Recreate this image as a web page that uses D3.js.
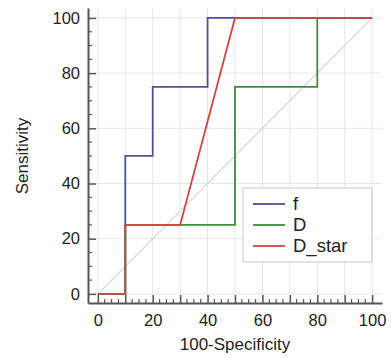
<!DOCTYPE html>
<html>
<head>
<meta charset="utf-8">
<script src="https://cdn.jsdelivr.net/npm/d3@7"></script>
<style>
  body { margin: 0; background: #fff; }
  svg { font-family: "Liberation Sans", Arial, sans-serif; }
  .grid line { stroke: #e6e6e6; stroke-width: 1; }
  .axis path { stroke: #555; stroke-width: 2; }
  .axis line { stroke: #555; stroke-width: 1.5; }
  .axis text { fill: #222; font-size: 16.5px; }
</style>
</head>
<body>
<svg id="chart" width="391" height="358"></svg>
<script>
// ROC points (100-Specificity, Sensitivity)
const seriesNames = ["f", "D", "D_star"];
const seriesColors = ["#4f5096", "#3f8d3f", "#cc4646"];
const fX = [0, 10, 10, 20, 20, 40, 40, 100];
const fY = [0, 0, 50, 50, 75, 75, 100, 100];
const dX = [0, 10, 10, 50, 50, 80, 80, 100];
const dY = [0, 0, 25, 25, 75, 75, 100, 100];
const dStarX = [0, 10, 10, 30, 50, 100];
const dStarY = [0, 0, 25, 25, 100, 100];
const tickLabels = [0, 20, 40, 60, 80, 100];

const svg = d3.select("#chart");

// scales, padded a bit beyond 0..100 like the original
const x = d3.scaleLinear().domain([-3.6, 103.6]).range([88, 382]);
const y = d3.scaleLinear().domain([-3.3, 103.6]).range([303, 8]);

// grid
const grid = svg.append("g").attr("class", "grid");
grid.selectAll(".gv").data(d3.range(0, 101, 10)).join("line")
    .attr("x1", d => x(d)).attr("x2", d => x(d))
    .attr("y1", y.range()[0]).attr("y2", y.range()[1]);
grid.selectAll(".gh").data(d3.range(0, 101, 20)).join("line")
    .attr("y1", d => y(d)).attr("y2", d => y(d))
    .attr("x1", x.range()[0]).attr("x2", x.range()[1]);

// diagonal reference
svg.append("line")
    .attr("x1", x(0)).attr("y1", y(0))
    .attr("x2", x(100)).attr("y2", y(100))
    .attr("stroke", "#d9d2d9").attr("stroke-width", 1.2);

// minor ticks (inward)
const minor = svg.append("g");
minor.selectAll(".mx").data(d3.range(0, 101, 2.5).filter(d => d % 10 !== 0)).join("line")
    .attr("x1", d => x(d)).attr("x2", d => x(d))
    .attr("y1", y.range()[0]).attr("y2", y.range()[0] - 4)
    .attr("stroke", "#555").attr("stroke-width", 1.2);
minor.selectAll(".my").data(d3.range(0, 101, 5).filter(d => d % 20 !== 0)).join("line")
    .attr("y1", d => y(d)).attr("y2", d => y(d))
    .attr("x1", x.range()[0]).attr("x2", x.range()[0] + 4)
    .attr("stroke", "#555").attr("stroke-width", 1.2);

// x axis: long ticks every 10, labels every 20
svg.append("g").attr("class", "axis")
    .attr("transform", `translate(0,${y.range()[0]})`)
    .call(d3.axisBottom(x).tickValues(d3.range(0, 101, 10)).tickSize(-8).tickPadding(11).tickSizeOuter(0)
        .tickFormat(d => tickLabels.includes(d) ? d : ""));

svg.append("g").attr("class", "axis")
    .attr("transform", `translate(${x.range()[0]},0)`)
    .call(d3.axisLeft(y).tickValues(tickLabels).tickSize(-8).tickPadding(8).tickSizeOuter(0));

// ROC lines
const line = d3.line().x(d => x(d[0])).y(d => y(d[1]));
const series = [
    d3.zip(fX, fY),
    d3.zip(dX, dY),
    d3.zip(dStarX, dStarY)
];
svg.append("g").selectAll("path").data(series).join("path")
    .attr("d", line)
    .attr("fill", "none")
    .attr("stroke", (d, i) => seriesColors[i])
    .attr("stroke-width", 1.8);

// axis titles
svg.append("text")
    .attr("x", 235).attr("y", 350)
    .attr("text-anchor", "middle")
    .attr("font-size", 17)
    .attr("fill", "#222")
    .text("100-Specificity");
svg.append("text")
    .attr("transform", "translate(28,156) rotate(-90)")
    .attr("text-anchor", "middle")
    .attr("font-size", 17)
    .attr("fill", "#222")
    .text("Sensitivity");

// legend
const legend = svg.append("g").attr("transform", "translate(243,188)");
legend.append("rect")
    .attr("width", 129).attr("height", 74)
    .attr("fill", "#fff").attr("stroke", "#c8c8c8");
const rows = legend.selectAll("g").data(seriesNames).join("g")
    .attr("transform", (d, i) => `translate(0,${16 + i * 21})`);
rows.append("line")
    .attr("x1", 10).attr("x2", 42)
    .attr("stroke", (d, i) => seriesColors[i]).attr("stroke-width", 1.8);
rows.append("text")
    .attr("x", 50).attr("dy", "0.35em")
    .attr("font-size", 18.5).attr("fill", "#222")
    .text(d => d);
</script>
</body>
</html>
